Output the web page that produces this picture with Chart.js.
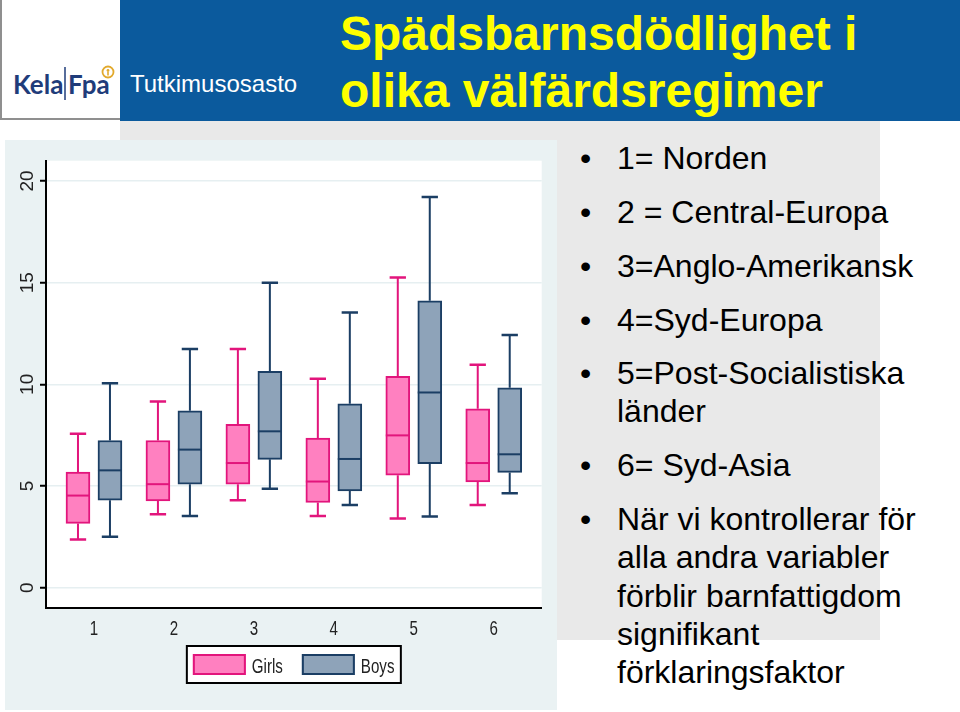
<!DOCTYPE html>
<html><head><meta charset="utf-8">
<script src="https://cdn.jsdelivr.net/npm/chart.js@4.4.1/dist/chart.umd.min.js"></script>
<style>
html,body{margin:0;padding:0;width:960px;height:712px;overflow:hidden;background:#fff;}
#bg{position:absolute;left:0;top:0;}
#chartbox{position:absolute;left:5px;top:140px;width:552px;height:570px;background:#eaf2f3;}
</style></head>
<body>
<svg id="bg" width="960" height="712" xmlns="http://www.w3.org/2000/svg">
  <rect x="120" y="0" width="840" height="121" fill="#0b5a9d"/>
  <rect x="120" y="121" width="760" height="519" fill="#e9e9e9"/>
  <line x1="1" y1="0" x2="1" y2="120" stroke="#8f8f8f" stroke-width="2"/>
  <line x1="0" y1="119" x2="120" y2="119" stroke="#8f8f8f" stroke-width="2"/>
  <text x="13" y="94" font-family="Lato, 'Open Sans', sans-serif" font-weight="bold" font-size="26" fill="#1f3c7a">Kela</text>
  <line x1="65" y1="67" x2="65" y2="100" stroke="#1f3c7a" stroke-width="1.5"/>
  <text x="68" y="94" font-family="Lato, 'Open Sans', sans-serif" font-weight="bold" font-size="26" fill="#1f3c7a">Fpa</text>
  <circle cx="108" cy="72" r="5.5" fill="none" stroke="#e2a92c" stroke-width="1.8"/>
  <circle cx="108" cy="70.5" r="1.4" fill="#e2a92c"/>
  <line x1="108" y1="72" x2="108" y2="75.5" stroke="#e2a92c" stroke-width="1.6"/>
  <text x="130" y="92" font-family="'Liberation Sans', Arial, sans-serif" font-size="24" fill="#ffffff">Tutkimusosasto</text>
  <g font-family="'Liberation Sans', Arial, sans-serif" font-weight="bold" font-size="48" fill="#ffff00">
    <text x="340" y="50">Spädsbarnsdödlighet i</text>
    <text x="340" y="107">olika välfärdsregimer</text>
  </g>
  <g font-family="'Liberation Sans', Arial, sans-serif" font-size="32" fill="#000">
    <text x="580" y="169">•</text><text x="617" y="169">1= Norden</text>
    <text x="580" y="223">•</text><text x="617" y="223">2 = Central-Europa</text>
    <text x="580" y="276.7">•</text><text x="617" y="276.7">3=Anglo-Amerikansk</text>
    <text x="580" y="330.7">•</text><text x="617" y="330.7">4=Syd-Europa</text>
    <text x="580" y="384">•</text><text x="617" y="384">5=Post-Socialistiska</text>
    <text x="617" y="422.3">länder</text>
    <text x="580" y="476">•</text><text x="617" y="476">6= Syd-Asia</text>
    <text x="580" y="530">•</text><text x="617" y="530">När vi kontrollerar för</text>
    <text x="617" y="568.3">alla andra variabler</text>
    <text x="617" y="606.7">förblir barnfattigdom</text>
    <text x="617" y="645">signifikant</text>
    <text x="617" y="683.3">förklaringsfaktor</text>
  </g>
</svg>
<div id="chartbox"><canvas id="c" width="552" height="570"></canvas></div>
<script>
// ---- data ----
const categories = ['1', '2', '3', '4', '5', '6'];
const yTickValues = [0, 5, 10, 15, 20];
const seriesLabels = ['Girls', 'Boys'];

const girlsMin    = [2.37, 3.61, 4.30, 3.52, 3.40, 4.07];
const girlsQ1     = [3.16, 4.27, 5.09, 4.19, 5.53, 5.20];
const girlsMedian = [4.53, 5.09, 6.13, 5.22, 7.49, 6.13];
const girlsQ3     = [5.69, 7.24, 8.03, 7.36, 10.40, 8.80];
const girlsMax    = [7.57, 9.16, 11.74, 10.27, 15.25, 10.97];

const boysMin     = [2.50, 3.52, 4.87, 4.06, 3.50, 4.64];
const boysQ1      = [4.30, 5.09, 6.31, 4.76, 6.10, 5.67];
const boysMedian  = [5.77, 6.79, 7.69, 6.33, 9.60, 6.56];
const boysQ3      = [7.24, 8.70, 10.64, 9.04, 14.11, 9.83];
const boysMax     = [10.05, 11.74, 15.00, 13.54, 19.21, 12.43];

// ---- layout / style constants ----
const PAIR_SHIFT = 0.2;
const SANS = "'Liberation Sans', Arial, sans-serif";
const NARROW_SCALE = 0.72;

function boxes(q1, q3, shift) {
  return categories.map((c, i) => ({ x: i + 1 + shift, y: [q1[i], q3[i]] }));
}

function narrowText(ctx, text, x, y, align) {
  ctx.save();
  ctx.translate(x, y);
  ctx.scale(NARROW_SCALE, 1);
  ctx.textAlign = align;
  ctx.textBaseline = 'alphabetic';
  ctx.fillText(text, 0, 0);
  ctx.restore();
}

const plotBackground = {
  id: 'plotBackground',
  beforeDraw(chart) {
    const { ctx, chartArea: a } = chart;
    ctx.save();
    ctx.fillStyle = '#ffffff';
    ctx.fillRect(a.left, a.top, a.right - a.left, a.bottom - a.top);
    ctx.restore();
  }
};

const xCategoryLabels = {
  id: 'xCategoryLabels',
  afterDraw(chart) {
    const { ctx, chartArea: a } = chart;
    const xs = chart.scales.x;
    ctx.save();
    ctx.fillStyle = '#222222';
    ctx.font = '21px ' + SANS;
    xs.ticks.forEach(t => {
      narrowText(ctx, categories[t.value - 1], xs.getPixelForValue(t.value), a.bottom + 27, 'center');
    });
    ctx.restore();
  }
};

const boxPlotLines = {
  id: 'boxPlotLines',
  afterDatasetsDraw(chart) {
    const ctx = chart.ctx;
    const yScale = chart.scales.y;
    chart.data.datasets.forEach((ds, d) => {
      const meta = chart.getDatasetMeta(d);
      meta.data.forEach((el, i) => {
        const x = el.x;
        const w = el.width;
        const cap = w * 0.68;
        const yMin = yScale.getPixelForValue(ds.stats.min[i]);
        const yMax = yScale.getPixelForValue(ds.stats.max[i]);
        const yQ1 = yScale.getPixelForValue(ds.stats.q1[i]);
        const yQ3 = yScale.getPixelForValue(ds.stats.q3[i]);
        const yMed = yScale.getPixelForValue(ds.stats.median[i]);
        ctx.save();
        ctx.strokeStyle = ds.borderColor;
        ctx.lineWidth = 2;
        ctx.beginPath();
        ctx.moveTo(x, yQ3); ctx.lineTo(x, yMax);
        ctx.moveTo(x, yQ1); ctx.lineTo(x, yMin);
        ctx.stroke();
        ctx.lineWidth = 2.5;
        ctx.beginPath();
        ctx.moveTo(x - cap / 2, yMax); ctx.lineTo(x + cap / 2, yMax);
        ctx.moveTo(x - cap / 2, yMin); ctx.lineTo(x + cap / 2, yMin);
        ctx.stroke();
        ctx.lineWidth = 2;
        ctx.beginPath();
        ctx.moveTo(x - w / 2, yMed); ctx.lineTo(x + w / 2, yMed);
        ctx.stroke();
        ctx.restore();
      });
    });
  }
};

const boxedLegend = {
  id: 'boxedLegend',
  afterDraw(chart) {
    const { ctx, chartArea: a } = chart;
    const w = 214, h = 37;
    const x0 = (a.left + a.right) / 2 - w / 2;
    const y0 = a.bottom + 38;
    ctx.save();
    ctx.fillStyle = '#ffffff';
    ctx.fillRect(x0, y0, w, h);
    ctx.strokeStyle = '#000000';
    ctx.lineWidth = 2;
    ctx.strokeRect(x0, y0, w, h);
    chart.data.datasets.forEach((ds, d) => {
      const sx = x0 + 6 + d * 109;
      const sy = y0 + 8;
      ctx.fillStyle = ds.backgroundColor;
      ctx.fillRect(sx, sy, 53, 21);
      ctx.strokeStyle = ds.borderColor;
      ctx.lineWidth = 2;
      ctx.strokeRect(sx + 1, sy + 1, 51, 19);
      ctx.fillStyle = '#222222';
      ctx.font = '21px ' + SANS;
      narrowText(ctx, ds.label, sx + 59, y0 + 27, 'left');
    });
    ctx.restore();
  }
};

new Chart(document.getElementById('c'), {
  type: 'bar',
  data: {
    datasets: [
      {
        label: seriesLabels[0],
        data: boxes(girlsQ1, girlsQ3, -PAIR_SHIFT),
        stats: { min: girlsMin, q1: girlsQ1, median: girlsMedian, q3: girlsQ3, max: girlsMax },
        backgroundColor: '#ff80c0',
        borderColor: '#e2157c',
        borderWidth: 2,
        borderSkipped: false,
        barThickness: 24,
        grouped: false
      },
      {
        label: seriesLabels[1],
        data: boxes(boysQ1, boysQ3, PAIR_SHIFT),
        stats: { min: boysMin, q1: boysQ1, median: boysMedian, q3: boysQ3, max: boysMax },
        backgroundColor: '#8ea3b9',
        borderColor: '#1b3e64',
        borderWidth: 2,
        borderSkipped: false,
        barThickness: 24,
        grouped: false
      }
    ]
  },
  options: {
    responsive: false,
    animation: false,
    devicePixelRatio: 1,
    layout: { padding: { left: 0, top: 20.7, right: 15.3, bottom: 0 } },
    plugins: { legend: { display: false }, tooltip: { enabled: false } },
    scales: {
      x: {
        type: 'linear',
        min: 0.4, max: 6.6,
        offset: false,
        afterFit(s) { s.height = 102; },
        afterBuildTicks(s) { s.ticks = categories.map((c, i) => ({ value: i + 1 })); },
        ticks: {
          display: false,
          stepSize: 1, includeBounds: false, autoSkip: false,
          callback: (v) => categories[v - 1]
        },
        grid: { display: false, drawTicks: false },
        border: { display: true, color: '#000000', width: 2 }
      },
      y: {
        type: 'linear',
        min: -1, max: 21,
        afterFit(s) { s.width = 41; },
        afterBuildTicks(s) { s.ticks = yTickValues.map(v => ({ value: v })); },
        ticks: {
          stepSize: 5, includeBounds: false,
          minRotation: 90, maxRotation: 90,
          crossAlign: 'center',
          padding: 2,
          font: { family: SANS, size: 19 },
          color: '#222222'
        },
        grid: { color: '#e6eff1', lineWidth: 1.5, tickColor: '#000000', tickWidth: 2, tickLength: 6 },
        border: { display: true, color: '#000000', width: 2 }
      }
    }
  },
  plugins: [plotBackground, boxPlotLines, xCategoryLabels, boxedLegend]
});
</script>
</body></html>
